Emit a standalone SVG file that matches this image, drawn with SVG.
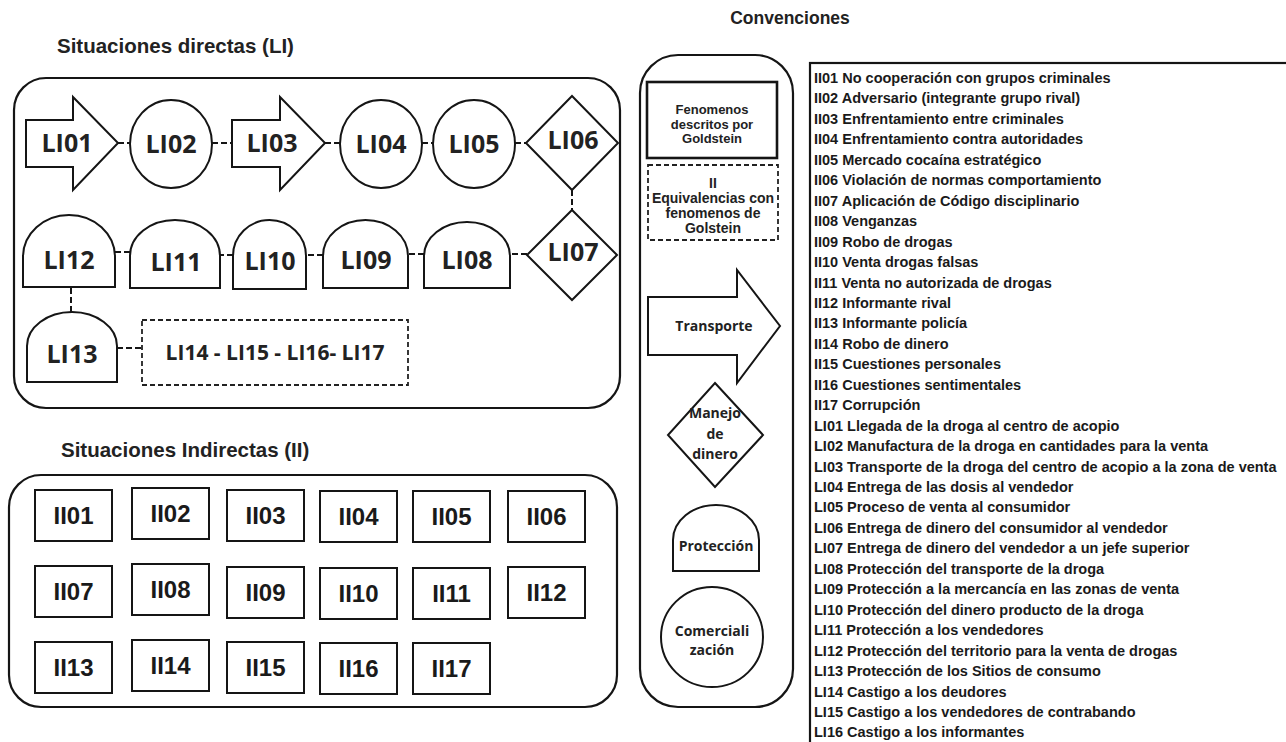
<svg xmlns="http://www.w3.org/2000/svg" width="1286" height="742" viewBox="0 0 1286 742">
<style>
.sh{fill:#fff;stroke:#151515;stroke-width:2}
.frame{fill:none;stroke:#151515;stroke-width:2.2}
.conn{fill:none;stroke:#151515;stroke-width:2;stroke-dasharray:6 3}
.dbox{fill:#fff;stroke:#222;stroke-width:1.8;stroke-dasharray:5 3}
.li{font-family:'Open Sans','DejaVu Sans',sans-serif;font-weight:700;font-size:25px;fill:#222;text-anchor:middle}
.li-sm{font-family:'Open Sans','DejaVu Sans',sans-serif;font-weight:700;font-size:21px;fill:#222;text-anchor:middle}
.ii{font-family:'Liberation Sans',Arial,sans-serif;font-weight:700;font-size:24px;fill:#1a1a1a;text-anchor:middle}
.ttl{font-family:'Liberation Sans',Arial,sans-serif;font-weight:700;font-size:20.5px;fill:#222}
.ttl-c{font-family:'Liberation Sans',Arial,sans-serif;font-weight:700;font-size:17.5px;fill:#222;text-anchor:middle}
.cv{font-family:'Open Sans','DejaVu Sans',sans-serif;font-weight:700;font-size:14px;fill:#222;text-anchor:middle}
.cvs{font-family:'Liberation Sans',Arial,sans-serif;font-weight:700;font-size:13px;fill:#222;text-anchor:middle}
.cve{font-family:'Liberation Sans',Arial,sans-serif;font-weight:700;font-size:14px;fill:#222;text-anchor:middle}
.leg{font-family:'Liberation Sans',Arial,sans-serif;font-weight:700;font-size:14.5px;fill:#1a1a1a}
.thick{stroke-width:2.6}
</style>
<rect width="1286" height="742" fill="#fff"/>

<!-- Titles -->
<text class="ttl-c" x="790" y="24">Convenciones</text>
<text class="ttl" x="57" y="53">Situaciones directas (LI)</text>
<text class="ttl" x="61" y="457">Situaciones Indirectas (II)</text>

<!-- Containers -->
<rect class="frame" x="14" y="78" width="606" height="330" rx="32"/>
<rect class="frame" x="9" y="475" width="608" height="232" rx="32"/>
<rect class="frame" x="640" y="55" width="153" height="652" rx="38"/>
<rect class="frame" x="810" y="63" width="500" height="700"/>

<!-- Connectors -->
<g id="connectors">
<line class="conn" x1="118" y1="143" x2="130" y2="143"/>
<line class="conn" x1="212" y1="143" x2="232" y2="143"/>
<line class="conn" x1="325" y1="143" x2="340" y2="143"/>
<line class="conn" x1="422" y1="143" x2="433" y2="143"/>
<line class="conn" x1="515" y1="143" x2="526" y2="143"/>
<line class="conn" x1="572" y1="190" x2="572" y2="210"/>
<line class="conn" x1="527" y1="254" x2="510" y2="254"/>
<line class="conn" x1="424" y1="254" x2="408" y2="254"/>
<line class="conn" x1="323" y1="255" x2="306" y2="255"/>
<line class="conn" x1="233" y1="255" x2="220" y2="255"/>
<line class="conn" x1="130" y1="252" x2="115" y2="252"/>
<line class="conn" x1="71" y1="288" x2="71" y2="312"/>
<line class="conn" x1="117" y1="348" x2="142" y2="348"/>
</g>

<!-- LI nodes -->
<g id="LI01"><polygon class="sh" points="26,120 73,120 73,97 118,143 73,190 73,167 26,167"/><text class="li" x="67" y="152">LI01</text></g>
<g id="LI02"><ellipse class="sh" cx="171" cy="144" rx="41" ry="44"/><text class="li" x="171" y="153">LI02</text></g>
<g id="LI03"><polygon class="sh" points="232,120 280,120 280,97 325,143 280,190 280,167 232,167"/><text class="li" x="272" y="152">LI03</text></g>
<g id="LI04"><ellipse class="sh" cx="381" cy="144" rx="41" ry="44"/><text class="li" x="381" y="153">LI04</text></g>
<g id="LI05"><ellipse class="sh" cx="474" cy="144" rx="41" ry="44"/><text class="li" x="474" y="153">LI05</text></g>
<g id="LI06"><polygon class="sh" points="572,96 618,143 572,190 526,143"/><text class="li" x="573" y="149">LI06</text></g>
<g id="LI07"><polygon class="sh" points="572,210 617,255 572,300 527,255"/><text class="li" x="573" y="261">LI07</text></g>
<g id="LI08"><path class="sh" d="M424,288 L424,256 A43,34 0 0 1 510,256 L510,288 Z"/><text class="li" x="467" y="269">LI08</text></g>
<g id="LI09"><path class="sh" d="M323,288 L323,256 A42.5,36 0 0 1 408,256 L408,288 Z"/><text class="li" x="366" y="269">LI09</text></g>
<g id="LI10"><path class="sh" d="M233,289 L233,256 A36.5,36 0 0 1 306,256 L306,289 Z"/><text class="li" x="270" y="270">LI10</text></g>
<g id="LI11"><path class="sh" d="M130,288 L130,256 A45,36 0 0 1 220,256 L220,288 Z"/><text class="li" x="176" y="271">LI11</text></g>
<g id="LI12"><path class="sh" d="M23,287 L23,257 A46,42 0 0 1 115,257 L115,287 Z"/><text class="li" x="69" y="269">LI12</text></g>
<g id="LI13"><path class="sh" d="M27,382 L27,346 A45,34 0 0 1 117,346 L117,382 Z"/><text class="li" x="72" y="363">LI13</text></g>
<g id="LI14-17"><rect class="dbox" x="142" y="320" width="266" height="65"/><text class="li-sm" x="275" y="360">LI14 - LI15 - LI16- LI17</text></g>

<!-- II nodes -->
<g id="II01"><rect class="sh" x="35" y="490" width="77" height="51"/><text class="ii" x="73.5" y="524">II01</text></g>
<g id="II02"><rect class="sh" x="132" y="488" width="77" height="51"/><text class="ii" x="170.5" y="522">II02</text></g>
<g id="II03"><rect class="sh" x="227" y="490" width="77" height="51"/><text class="ii" x="265.5" y="524">II03</text></g>
<g id="II04"><rect class="sh" x="320" y="491" width="77" height="51"/><text class="ii" x="358.5" y="525">II04</text></g>
<g id="II05"><rect class="sh" x="413" y="491" width="77" height="51"/><text class="ii" x="451.5" y="525">II05</text></g>
<g id="II06"><rect class="sh" x="508" y="491" width="77" height="51"/><text class="ii" x="546.5" y="525">II06</text></g>
<g id="II07"><rect class="sh" x="35" y="566" width="77" height="51"/><text class="ii" x="73.5" y="600">II07</text></g>
<g id="II08"><rect class="sh" x="132" y="564" width="77" height="51"/><text class="ii" x="170.5" y="598">II08</text></g>
<g id="II09"><rect class="sh" x="227" y="567" width="77" height="51"/><text class="ii" x="265.5" y="601">II09</text></g>
<g id="II10"><rect class="sh" x="320" y="568" width="77" height="51"/><text class="ii" x="358.5" y="602">II10</text></g>
<g id="II11"><rect class="sh" x="413" y="568" width="77" height="51"/><text class="ii" x="451.5" y="602">II11</text></g>
<g id="II12"><rect class="sh" x="508" y="567" width="77" height="51"/><text class="ii" x="546.5" y="601">II12</text></g>
<g id="II13"><rect class="sh" x="35" y="642" width="77" height="51"/><text class="ii" x="73.5" y="676">II13</text></g>
<g id="II14"><rect class="sh" x="132" y="640" width="77" height="51"/><text class="ii" x="170.5" y="674">II14</text></g>
<g id="II15"><rect class="sh" x="227" y="642" width="77" height="51"/><text class="ii" x="265.5" y="676">II15</text></g>
<g id="II16"><rect class="sh" x="320" y="643" width="77" height="51"/><text class="ii" x="358.5" y="677">II16</text></g>
<g id="II17"><rect class="sh" x="413" y="643" width="77" height="51"/><text class="ii" x="451.5" y="677">II17</text></g>

<!-- Conventions -->
<g id="conv-fenomenos"><rect class="sh thick" x="647" y="82" width="130" height="76"/>
<text class="cvs" x="712" y="114">Fenomenos</text><text class="cvs" x="712" y="128.5">descritos por</text><text class="cvs" x="712" y="143">Goldstein</text></g>
<g id="conv-equivalencias"><rect class="dbox" x="648" y="165" width="130" height="75"/>
<text class="cve" x="713" y="188">II</text><text class="cve" x="713" y="203">Equivalencias con</text><text class="cve" x="713" y="218">fenomenos de</text><text class="cve" x="713" y="233">Golstein</text></g>
<g id="conv-transporte"><polygon class="sh" points="648,297 737,297 737,270 780,326 737,383 737,355 648,355"/><text class="cv" x="714" y="331">Transporte</text></g>
<g id="conv-manejo"><polygon class="sh" points="715,383 763,435 715,487 668,435"/>
<text class="cv" x="715" y="418">Manejo</text><text class="cv" x="715" y="439">de</text><text class="cv" x="715" y="459">dinero</text></g>
<g id="conv-proteccion"><path class="sh" d="M673,571 L673,540 A43,35 0 0 1 759,540 L759,571 Z"/><text class="cv" x="716" y="551">Protección</text></g>
<g id="conv-comercializacion"><ellipse class="sh" cx="712" cy="637" rx="51" ry="50"/>
<text class="cv" x="712" y="636">Comerciali</text><text class="cv" x="712" y="655">zación</text></g>

<!-- Legend -->
<g id="legend" class="leg">
<text x="814" y="83">II01 No cooperación con grupos criminales</text>
<text x="814" y="103.45">II02 Adversario (integrante grupo rival)</text>
<text x="814" y="123.9">II03 Enfrentamiento entre criminales</text>
<text x="814" y="144.35">II04 Enfrentamiento contra autoridades</text>
<text x="814" y="164.8">II05 Mercado cocaína estratégico</text>
<text x="814" y="185.25">II06 Violación de normas comportamiento</text>
<text x="814" y="205.7">II07 Aplicación de Código disciplinario</text>
<text x="814" y="226.15">II08 Venganzas</text>
<text x="814" y="246.6">II09 Robo de drogas</text>
<text x="814" y="267.05">II10 Venta drogas falsas</text>
<text x="814" y="287.5">II11 Venta no autorizada de drogas</text>
<text x="814" y="307.95">II12 Informante rival</text>
<text x="814" y="328.4">II13 Informante policía</text>
<text x="814" y="348.85">II14 Robo de dinero</text>
<text x="814" y="369.3">II15 Cuestiones personales</text>
<text x="814" y="389.75">II16 Cuestiones sentimentales</text>
<text x="814" y="410.2">II17 Corrupción</text>
<text x="814" y="430.65">LI01 Llegada de la droga al centro de acopio</text>
<text x="814" y="451.1">LI02 Manufactura de la droga en cantidades para la venta</text>
<text x="814" y="471.55">LI03 Transporte de la droga del centro de acopio a la zona de venta</text>
<text x="814" y="492">LI04 Entrega de las dosis al vendedor</text>
<text x="814" y="512.45">LI05 Proceso de venta al consumidor</text>
<text x="814" y="532.9">LI06 Entrega de dinero del consumidor al vendedor</text>
<text x="814" y="553.35">LI07 Entrega de dinero del vendedor a un jefe superior</text>
<text x="814" y="573.8">LI08 Protección del transporte de la droga</text>
<text x="814" y="594.25">LI09 Protección a la mercancía en las zonas de venta</text>
<text x="814" y="614.7">LI10 Protección del dinero producto de la droga</text>
<text x="814" y="635.15">LI11 Protección a los vendedores</text>
<text x="814" y="655.6">LI12 Protección del territorio para la venta de drogas</text>
<text x="814" y="676.05">LI13 Protección de los Sitios de consumo</text>
<text x="814" y="696.5">LI14 Castigo a los deudores</text>
<text x="814" y="716.95">LI15 Castigo a los vendedores de contrabando</text>
<text x="814" y="737.4">LI16 Castigo a los informantes</text>
</g>
</svg>
